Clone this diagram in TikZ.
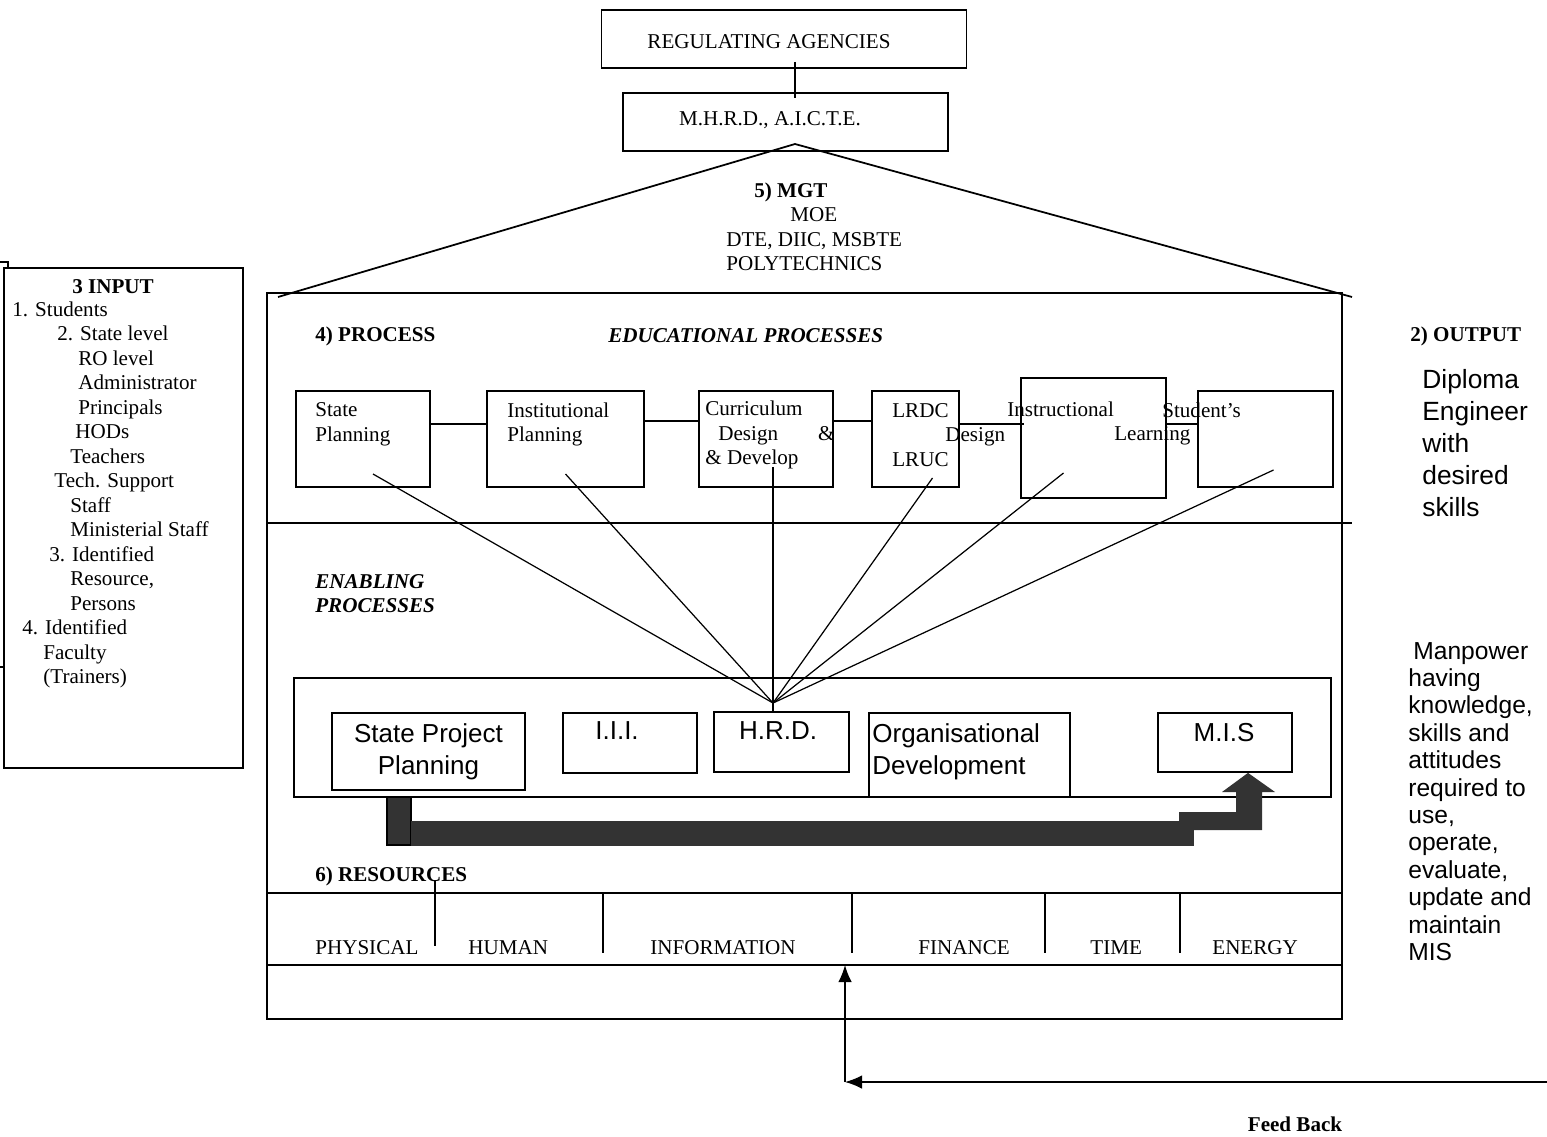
\documentclass[tikz,border=0pt]{standalone}
\usepackage{fontspec}
\setmainfont{Liberation Serif}
\setsansfont{Liberation Sans}
\usetikzlibrary{arrows.meta}
\definecolor{bararrow}{HTML}{333333}

\begin{document}
\begin{tikzpicture}[x=0.02cm, y=-0.02cm,
  every node/.style={inner sep=0pt},
  txt/.style={font=\fontsize{12}{13.94}\selectfont, align=left},
  hd/.style={txt, font=\fontsize{12}{13.94}\selectfont\bfseries},
  hdi/.style={txt, font=\fontsize{12}{13.94}\selectfont\bfseries\itshape},
  sans/.style={font=\sffamily\fontsize{14.8}{18.1}\selectfont, align=center},
  box/.style={draw, line width=1pt},
  fan/.style={line width=0.7pt},
  fbarrow/.style={-{Latex[length=0.34cm,width=0.27cm]}, line width=0.8pt}]
\useasboundingbox (0,0) rectangle (1547,1136);

% top agencies
\node[box, minimum width=7.3cm, minimum height=1.16cm] (reg) at (784,39) {};
\node[txt] (regt) at (769,42) {REGULATING AGENCIES};
\node[box, minimum width=6.5cm, minimum height=1.16cm] (mhrd) at (785.5,122) {};
\node[txt] (mhrdt) at (770,120) {M.H.R.D., A.I.C.T.E.};
\coordinate (apex) at (795,144);
\draw[line width=1pt] ([yshift=0.14cm]reg.south -| apex) -- ([yshift=-0.12cm]mhrd.north -| apex);

% main frame and roof
\node[box, minimum width=21.5cm, minimum height=14.52cm] (mainbox) at (804.5,656) {};
\coordinate (roofL) at (278,297);
\coordinate (roofR) at (1352,297);
\draw[line width=1pt] (roofL) -- (apex) -- (roofR);
\node[txt, anchor=west] (mgt) at (726,227) {\hspace*{0.56cm}\textbf{5) MGT}\\\hspace*{1.28cm}MOE\\DTE, DIIC, MSBTE\\POLYTECHNICS};

% input
\node[box, minimum width=4.78cm, minimum height=10cm] (inbox) at (123.5,518) {};
\draw[line width=1pt] (0,262) -| (8,268);
\draw[line width=1pt] (0,667) -- (4,667);
\node[hd] (inhead) at (113,287) {3 INPUT};
\node[txt, anchor=west] (inlist) at (12,495) {1. Students\\
\hspace*{0.9cm}2. State level\\
\hspace*{1.32cm}RO level\\
\hspace*{1.32cm}Administrator\\
\hspace*{1.32cm}Principals\\
\hspace*{1.26cm}HODs\\
\hspace*{1.16cm}Teachers\\
\hspace*{0.84cm}Tech. Support\\
\hspace*{1.16cm}Staff\\
\hspace*{1.16cm}Ministerial Staff\\
\hspace*{0.74cm}3. Identified\\
\hspace*{1.16cm}Resource,\\
\hspace*{1.16cm}Persons\\
\hspace*{0.2cm}4. Identified\\
\hspace*{0.62cm}Faculty\\
\hspace*{0.62cm}(Trainers)};

% process row
\node[hd, anchor=west] (proc) at (315,336) {4) PROCESS};
\node[hdi, anchor=west] (edu) at (608,336) {EDUCATIONAL PROCESSES};
\node[hd, anchor=west] (outhd) at (1410,336) {2) OUTPUT};

\node[box, minimum width=2.68cm, minimum height=1.92cm] (sp) at (363,439) {};
\node[box, minimum width=3.14cm, minimum height=1.92cm] (ip) at (565.5,439) {};
\node[box, minimum width=2.68cm, minimum height=1.92cm] (cd) at (766,439) {};
\node[box, minimum width=1.74cm, minimum height=1.92cm] (lr) at (915.5,439) {};
\node[box, minimum width=2.9cm, minimum height=2.4cm] (id) at (1093.5,438) {};
\node[box, minimum width=2.7cm, minimum height=1.92cm] (sl) at (1265.5,439) {};

\node[txt, anchor=west] (spt) at (315,424.5) {State\\Planning};
\node[txt, anchor=west] (ipt) at (507,424.5) {Institutional\\Planning};
\node[txt, anchor=west] (cdt) at (705,435) {Curriculum\\\hspace*{0.26cm}Design\hspace*{0.8cm}\&\\\& Develop};
\node[txt, anchor=west] (lrt) at (892,435) {LRDC\\\hspace*{1.06cm}Design\\LRUC};
\node[txt, anchor=west] (idt) at (1007,423.5) {Instructional\\\hspace*{2.14cm}Learning};
\node[txt, anchor=west] (slt) at (1162,410) {Student’s};

\draw[line width=1pt] ([yshift=0.3cm]sp.east) -- ([yshift=0.3cm]ip.west);
\draw[line width=1pt] ([yshift=0.36cm]ip.east) -- ([yshift=0.36cm]cd.west);
\draw[line width=1pt] ([yshift=0.36cm]cd.east) -- ([yshift=0.36cm]lr.west);
\draw[line width=1pt] ([yshift=0.3cm]lr.east) -- ([xshift=0.08cm,yshift=0.28cm]id.west);
\draw[line width=1pt] ([yshift=0.28cm]id.east) -- ([yshift=0.3cm]sl.west);

\coordinate (sepR) at (1352,523);
\draw[line width=1pt] (mainbox.west |- sepR) -- (sepR);

% output
\node[font=\sffamily\fontsize{15}{18.15}\selectfont, align=left, anchor=west] (dip) at (1422,443) {Diploma\\Engineer\\with\\desired\\skills};
\node[font=\sffamily\fontsize{14}{15.6}\selectfont, align=left, anchor=west] (man) at (1408,801.5) {\hspace*{0.1cm}Manpower\\having\\knowledge,\\skills and\\attitudes\\required to\\use,\\operate,\\evaluate,\\update and\\maintain\\MIS};

% enabling processes
\node[hdi, anchor=west] (enab) at (315,593.5) {ENABLING\\PROCESSES};
\node[box, minimum width=20.74cm, minimum height=2.38cm] (enbox) at (812.5,737.5) {};
\node[box, sans, minimum width=3.86cm, minimum height=1.54cm] (spp) at (428.5,751.5) {State Project\\Planning};
\node[box, minimum width=2.68cm, minimum height=1.2cm] (iii) at (630,743) {};
\node[sans] (iiit) at (617,731) {I.I.I.};
\node[box, minimum width=2.7cm, minimum height=1.2cm] (hrd) at (781.5,742) {};
\node[sans] (hrdt) at (778,731) {H.R.D.};
\node[box, minimum width=4.02cm, minimum height=1.68cm] (od) at (969.5,755) {};
\node[sans, align=left, anchor=west] (odt) at (872,752) {Organisational\\Development};
\node[box, minimum width=2.68cm, minimum height=1.18cm] (mis) at (1225,742.5) {};
\node[sans] (mist) at (1224,733) {M.I.S};

\coordinate (hub) at (773,703);
\draw[fan] (hub) -- ([shift={(10,35)}]sp.center);
\draw[fan] (hub) -- ([shift={(0,35)}]ip.center);
\draw[fan] (hub) -- ([shift={(7,28)}]cd.center);
\draw[fan] (hub) -- ([shift={(17,39)}]lr.center);
\draw[fan] (hub) -- ([shift={(-30,35)}]id.center);
\draw[fan] (hub) -- ([shift={(8,31)}]sl.center);
\draw[fan] (hub) -- (hub |- hrd.north);

% block arrow from state project planning to MIS
\filldraw[fill=bararrow, draw=black, line width=0.7pt] (387,797) rectangle (411,845);
\fill[bararrow] (1179,830) -- (1179,812) -- (1236,812) -- (1236,792) -- (1222,792)
  -- (mis.south -| 1248,0) -- (1275,792) -- (1262,792) -- (1262,830) -- cycle;
\filldraw[fill=bararrow, draw=black!80, line width=0.4pt] (411,821) rectangle (1193,845);

% resources
\node[hd, anchor=west] (res) at (315,876) {6) RESOURCES};
\coordinate (resTop) at (0,893);
\coordinate (resBot) at (0,965);
\draw[line width=1pt] (mainbox.west |- resTop) -- (mainbox.east |- resTop);
\draw[line width=1pt] (mainbox.west |- resBot) -- (mainbox.east |- resBot);
\draw[line width=0.6pt] (435,880) -- (435,946);
\foreach \x in {603,852,1045,1180} {\draw[line width=0.6pt] (\x,893) -- (\x,953);}
\node[txt, anchor=west] (phys) at (315,948) {PHYSICAL};
\node[txt, anchor=west] (hum) at (468,948) {HUMAN};
\node[txt, anchor=west] (info) at (650,948) {INFORMATION};
\node[txt, anchor=west] (fin) at (918,948) {FINANCE};
\node[txt, anchor=west] (tim) at (1090,948) {TIME};
\node[txt, anchor=west] (ene) at (1212,948) {ENERGY};

% feed back
\coordinate (fbR) at (1547,1082);
\coordinate (fbC) at (845,1082);
\draw[fbarrow] (fbR) -- (fbC);
\draw[fbarrow] (fbC) -- (fbC |- resBot);
\node[hd] (fb) at (1295,1124) {Feed Back};
\end{tikzpicture}
\end{document}
